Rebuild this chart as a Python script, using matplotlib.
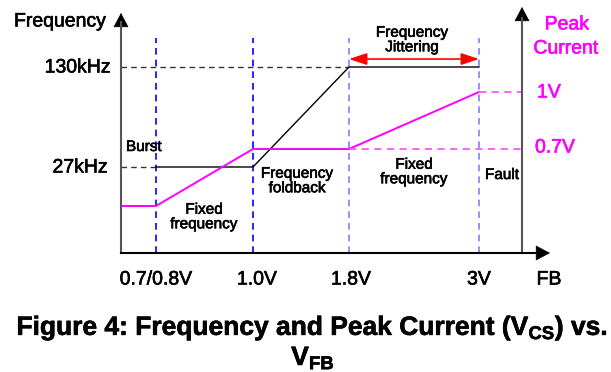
import matplotlib
matplotlib.use("Agg")
import matplotlib.pyplot as plt
import matplotlib.patheffects as pe

plt.rcParams['font.family'] = ['Liberation Sans', 'DejaVu Sans']
plt.rcParams['mathtext.fontset'] = 'custom'
plt.rcParams['mathtext.rm'] = 'Liberation Sans'
plt.rcParams['mathtext.bf'] = 'Liberation Sans:bold'

# ---- data ----
fb_labels = ['0.7/0.8V', '1.0V', '1.8V', '3V']
freq_khz = [27, 27, 130, 130]          # switching frequency at each FB breakpoint
freq_ticks = [27, 130]
freq_tick_labels = ['27kHz', '130kHz']
peak_start = 0.4                        # peak current level below the first breakpoint
peak_v = [0.4, 0.7, 0.7, 1.0]           # peak current (V_CS) at each FB breakpoint
peak_ticks = [0.7, 1.0]
peak_tick_labels = ['0.7V', '1V']
regions = ['Burst', 'Fixed\nfrequency', 'Frequency\nfoldback', 'Fixed\nfrequency', 'Fault']

# ---- layout (schematic, not to scale) ----
W, H = 611, 372
fb_x = [0.35, 1.32, 2.28, 3.58]         # breakpoint positions along the FB axis
x_right_axis = 4.01

fig = plt.figure(figsize=(W / 100, H / 100), dpi=100)
ax = fig.add_axes([121 / W, (H - 253) / H, (550 - 121) / W, (253 - 7) / H])
ax.set_xlim(0, 4.29)
ax.set_ylim(-61.6, 191.8)
ax.axis('off')
ax2 = ax.twinx()
ax2.set_ylim(0.7 - 104 / 190, 0.7 + 142 / 190)
ax2.axis('off')


def ftext(x, y, s, color='black', **kw):
    t = fig.text(x / W, 1 - y / H, s, color=color, **kw)
    t.set_path_effects([pe.withStroke(linewidth=0.45, foreground=color)])
    return t


# axes lines with arrow heads
ax_col = '#555555'
fig.add_artist(plt.Line2D([121 / W, 121 / W], [(H - 253) / H, (H - 22) / H], color=ax_col, lw=1.5))
fig.add_artist(plt.Line2D([522 / W, 522 / W], [(H - 253) / H, (H - 18) / H], color=ax_col, lw=1.5))
fig.add_artist(plt.Line2D([121 / W, 535 / W], [(H - 253) / H, (H - 253) / H], color='black', lw=1.5))
head = dict(arrowstyle='-|>,head_length=0.94,head_width=0.5', color='black',
            mutation_scale=10, lw=0.5, shrinkA=0, shrinkB=0)
ax.annotate('', xy=(121, H - 13), xytext=(121, H - 30), xycoords='figure pixels',
            textcoords='figure pixels', arrowprops=head)
ax.annotate('', xy=(522, H - 7), xytext=(522, H - 24), xycoords='figure pixels',
            textcoords='figure pixels', arrowprops=head)
ax.annotate('', xy=(550, H - 253), xytext=(533, H - 253), xycoords='figure pixels',
            textcoords='figure pixels', arrowprops=head)

# vertical breakpoint markers
vcols = ['#0000ff', '#0000ff', '#7f7fff', '#7f7fff']
for xv, c in zip(fb_x, vcols):
    ax.axvline(xv, ymin=0, ymax=(253 - 38) / 246, color=c, lw=1.2, ls=(0, (4, 3)))

# frequency reference lines
ax.plot([0, fb_x[2]], [freq_ticks[1]] * 2, color='#333333', lw=1.0, ls=(0, (4, 3)))
ax.plot([0, fb_x[0]], [freq_ticks[0]] * 2, color='#333333', lw=1.0, ls=(0, (4, 3)))

# frequency curve
ax.plot(fb_x, freq_khz, color='black', lw=1.0)

# peak current curve and reference lines
ax2.plot([0] + fb_x, [peak_start] + peak_v, color='#ff00ff', lw=1.4)
ax2.plot([fb_x[2], x_right_axis], [peak_ticks[0]] * 2, color='#ff55ff', lw=1.3, ls=(0, (4, 3)))
ax2.plot([fb_x[3], x_right_axis], [peak_ticks[1]] * 2, color='#ff55ff', lw=1.3, ls=(0, (4, 3)))

# frequency jittering span
ax.annotate('', xy=(fb_x[3], 138.2), xytext=(fb_x[2], 138.2),
            arrowprops=dict(arrowstyle='<|-|>,head_length=1.08,head_width=0.36',
                            color='#ff0000', lw=1.2, mutation_scale=10,
                            shrinkA=0, shrinkB=0))

# axis titles and tick labels
ftext(14, 22, 'Frequency', fontsize=14, ha='left', va='center')
ftext(111, 68, freq_tick_labels[1], fontsize=14, ha='right', va='center')
ftext(108, 168, freq_tick_labels[0], fontsize=14, ha='right', va='center')
ftext(567, 25, 'Peak', fontsize=14, ha='center', va='center', color='#ff00ff')
ftext(566, 49, 'Current', fontsize=14, ha='center', va='center', color='#ff00ff')
ftext(537, 93, peak_tick_labels[1], fontsize=14, ha='left', va='center', color='#ff00ff')
ftext(535, 148, peak_tick_labels[0], fontsize=14, ha='left', va='center', color='#ff00ff')

for lab, xc in zip(fb_labels + ['FB'], [156, 257, 351, 479, 549]):
    ftext(xc, 280, lab, fontsize=14, ha='center', va='center')

# region annotations
ftext(126, 147, regions[0], fontsize=11, ha='left', va='center')
ftext(204, 217, regions[1], fontsize=11, ha='center', va='center', linespacing=1.05)
ftext(297, 181, regions[2], fontsize=11, ha='center', va='center', linespacing=1.05)
ftext(414, 172, regions[3], fontsize=11, ha='center', va='center', linespacing=1.05)
ftext(502, 175, regions[4], fontsize=11, ha='center', va='center')
ftext(412, 40, 'Frequency\nJittering', fontsize=11, ha='center', va='center', linespacing=1.05)

# caption
ftext(312, 335, r'Figure 4: Frequency and Peak Current ($\mathbf{V_{CS}}$) vs.',
      fontsize=19, fontweight='bold', ha='center', va='baseline')
ftext(313, 365, r'$\mathbf{V_{FB}}$', fontsize=19, ha='center', va='baseline')

fig.savefig('out.png', dpi=100)
